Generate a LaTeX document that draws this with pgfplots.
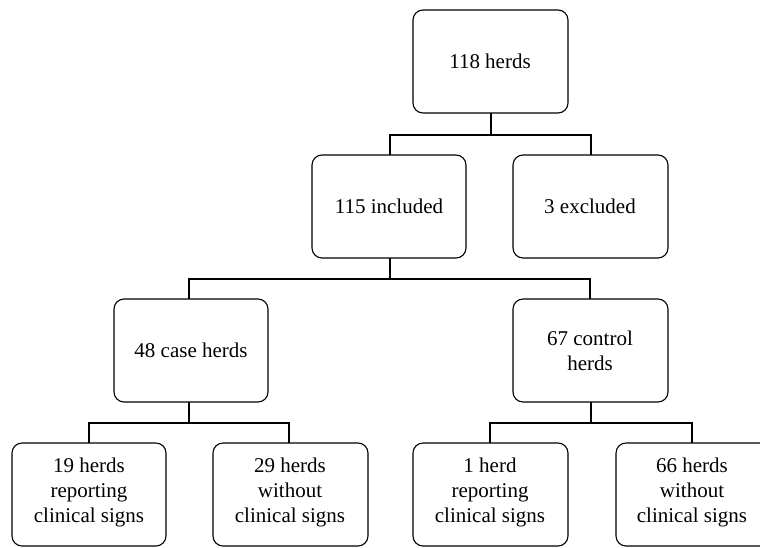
\documentclass[border=0pt]{standalone}
\usepackage{pgfplots}
\pgfplotsset{compat=1.18}
\usepackage{fontspec}
\setmainfont{Liberation Serif}
% box: x1, x2, y1, y2, cx
\newcommand{\flowbox}[5]{%
  \addplot[black, line width=1.1bp, rounded corners=10bp, line join=round]
    coordinates {(#5,#3) (#2,#3) (#2,#4) (#1,#4) (#1,#3) (#5,#3)};%
}
\begin{document}
\begin{tikzpicture}[lbl/.style={align=center, font=\fontsize{21bp}{25bp}\selectfont, inner sep=0pt}]
\begin{axis}[hide axis, scale only axis, width=760bp, height=547bp,
  xmin=0, xmax=760, ymin=0, ymax=547, y dir=reverse]
% boxes
\flowbox{413}{568}{10}{113}{490}
\flowbox{312}{466}{155}{258}{389}
\flowbox{513}{668}{155}{258}{590}
\flowbox{114}{268}{299}{402}{191}
\flowbox{513}{668}{299}{402}{590}
\flowbox{12}{166}{443}{546}{89}
\flowbox{213}{368}{443}{546}{290}
\flowbox{413}{568}{443}{546}{490}
\addplot[black, line width=1.1bp, rounded corners=10bp, line join=round]
    coordinates {(760,443) (616,443) (616,546) (760,546)};
% connectors
\addplot[black, line width=1.1bp] coordinates {(491,113) (491,135)};
\addplot[black, line width=1.1bp] coordinates {(390,155) (390,135) (591,135) (591,155)};
\addplot[black, line width=1.1bp] coordinates {(390,258) (390,279)};
\addplot[black, line width=1.1bp] coordinates {(189,299) (189,279) (590,279) (590,299)};
\addplot[black, line width=1.1bp] coordinates {(189,402) (189,423)};
\addplot[black, line width=1.1bp] coordinates {(89,443) (89,423) (289,423) (289,443)};
\addplot[black, line width=1.1bp] coordinates {(591,402) (591,423)};
\addplot[black, line width=1.1bp] coordinates {(490,443) (490,423) (692,423) (692,443)};
% texts
\node[lbl] at (axis cs:490,61.5) {118 herds};
\node[lbl] at (axis cs:389,206.5) {115 included};
\node[lbl] at (axis cs:590,206.5) {3 excluded};
\node[lbl] at (axis cs:191,350.5) {48 case herds};
\node[lbl] at (axis cs:590,350.5) {67 control\\herds};
\node[lbl] at (axis cs:89,492) {19 herds\\reporting\\clinical signs};
\node[lbl] at (axis cs:290,492) {29 herds\\without\\clinical signs};
\node[lbl] at (axis cs:490,492) {1 herd\\reporting\\clinical signs};
\node[lbl] at (axis cs:692,492) {66 herds\\without\\clinical signs};
\end{axis}
\path (current axis.south west) rectangle (current axis.north east);
\end{tikzpicture}
\end{document}
